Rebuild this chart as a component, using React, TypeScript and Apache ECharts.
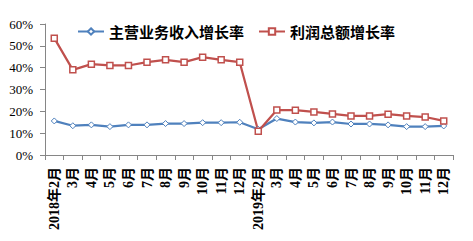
import React, { useEffect, useRef } from "react";
import * as echarts from "echarts";

const categories = [
  "2018年2月", "3月", "4月", "5月", "6月", "7月", "8月", "9月", "10月", "11月", "12月",
  "2019年2月", "3月", "4月", "5月", "6月", "7月", "8月", "9月", "10月", "11月", "12月",
];
const revenueGrowth = [
  15.6, 13.4, 13.8, 13.0, 13.8, 13.8, 14.4, 14.4, 14.8, 14.8, 15.0,
  11.8, 16.7, 15.1, 14.7, 15.1, 14.2, 14.2, 13.8, 13.0, 13.0, 13.3,
];
const profitGrowth = [
  53.5, 39.0, 41.6, 41.0, 41.0, 42.5, 43.6, 42.5, 44.8, 43.6, 42.5,
  10.9, 20.6, 20.5, 19.7, 18.8, 17.9, 17.9, 18.7, 17.9, 17.4, 15.6,
];
const seriesNames = ["主营业务收入增长率", "利润总额增长率"];

export default function App() {
  const ref = useRef<HTMLDivElement>(null);
  useEffect(() => {
    const chart = echarts.init(ref.current!, null, { renderer: "svg" });
    const serif = "'Liberation Serif', 'Noto Sans CJK SC', serif";
    chart.setOption({
      animation: false,
      backgroundColor: "#ffffff",
      grid: { left: 45, right: 20, top: 24, bottom: 86 },
      legend: {
        left: 72,
        top: 19,
        itemWidth: 26,
        itemHeight: 8,
        itemGap: 14,
        itemTextGap: 4,
        textStyle: {
          fontSize: 15,
          fontWeight: "bold",
          color: "#000",
          fontFamily: "'Noto Sans CJK SC', sans-serif",
        },
        data: seriesNames,
      },
      xAxis: {
        type: "category",
        data: categories,
        boundaryGap: true,
        axisLine: { lineStyle: { color: "#868686", width: 1 } },
        axisTick: { show: true, length: 5, lineStyle: { color: "#868686" } },
        axisLabel: {
          rotate: 90,
          interval: 0,
          margin: 12,
          fontSize: 14,
          fontWeight: "bold",
          color: "#000",
          fontFamily: serif,
        },
      },
      yAxis: {
        type: "value",
        min: 0,
        max: 60,
        interval: 10,
        splitLine: { show: false },
        axisLine: { show: true, lineStyle: { color: "#868686", width: 1 } },
        axisTick: { show: true, length: 5, lineStyle: { color: "#868686" } },
        axisLabel: {
          formatter: "{value}%",
          margin: 12,
          fontSize: 13,
          color: "#000",
          fontFamily: serif,
        },
      },
      series: [
        {
          name: seriesNames[0],
          type: "line",
          data: revenueGrowth,
          symbol: "diamond",
          symbolSize: 6,
          lineStyle: { color: "#4F81BD", width: 2.25 },
          itemStyle: { color: "#ffffff", borderColor: "#4F81BD", borderWidth: 1 },
        },
        {
          name: seriesNames[1],
          type: "line",
          data: profitGrowth,
          symbol: "rect",
          symbolSize: 6,
          lineStyle: { color: "#C0504D", width: 2.25 },
          itemStyle: { color: "#ffffff", borderColor: "#C0504D", borderWidth: 1.5 },
        },
      ],
    });
    return () => chart.dispose();
  }, []);
  return <div ref={ref} style={{ width: 473, height: 241, position: "absolute", left: 0, top: 0 }} />;
}
